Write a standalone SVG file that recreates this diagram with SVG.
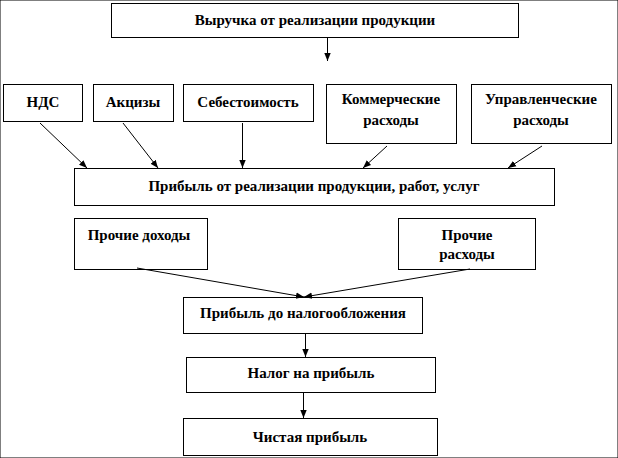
<svg xmlns="http://www.w3.org/2000/svg" width="618" height="458" viewBox="0 0 618 458">
<style>
rect{fill:#fff;stroke:#000;stroke-width:1}
text{font-family:"Liberation Serif","Times New Roman","DejaVu Serif",serif;font-weight:bold;font-size:15px;fill:#000;text-anchor:middle}
.c line{stroke:#000;stroke-width:1;marker-end:url(#a)}
</style>
<defs>
<marker id="a" viewBox="0 0 8 8" refX="8" refY="4" markerWidth="8" markerHeight="8" markerUnits="userSpaceOnUse" orient="auto">
<path d="M0,0.8 L8,4 L0,7.2 Z" fill="#000"/>
</marker>
</defs>
<rect width="618" height="458" fill="#fff" stroke="none"/>
<g id="n1"><rect x="111.5" y="3.5" width="407" height="34"/><text x="315" y="25">Выручка от реализации продукции</text></g>
<g id="n2"><rect x="3.5" y="84.5" width="79" height="37"/><text x="43" y="107">НДС</text></g>
<g id="n3"><rect x="93.5" y="84.5" width="80" height="37"/><text x="133" y="107">Акцизы</text></g>
<g id="n4"><rect x="183.5" y="84.5" width="130" height="37"/><text x="248" y="107">Себестоимость</text></g>
<g id="n5"><rect x="326.5" y="84.5" width="130" height="59"/><text x="391" y="104">Коммерческие</text><text x="391" y="125">расходы</text></g>
<g id="n6"><rect x="471.5" y="84.5" width="140" height="59"/><text x="541" y="104">Управленческие</text><text x="541" y="125">расходы</text></g>
<g id="n7"><rect x="74.5" y="168.5" width="480" height="37"/><text x="314" y="191">Прибыль от реализации продукции, работ, услуг</text></g>
<g id="n8"><rect x="74.5" y="218.5" width="133" height="51"/><text x="139" y="240">Прочие доходы</text></g>
<g id="n9"><rect x="398.5" y="218.5" width="137" height="51"/><text x="467" y="240">Прочие</text><text x="467" y="259">расходы</text></g>
<g id="n10"><rect x="183.5" y="297.5" width="239" height="36"/><text x="303" y="318">Прибыль до налогообложения</text></g>
<g id="n11"><rect x="186.5" y="357.5" width="249" height="35"/><text x="311" y="378">Налог на прибыль</text></g>
<g id="n12"><rect x="183.5" y="418.5" width="254" height="37"/><text x="310" y="442">Чистая прибыль</text></g>
<g class="c" id="connectors">
<line x1="327.5" y1="38" x2="327.5" y2="61"/>
<line x1="40" y1="123" x2="87" y2="168"/>
<line x1="123" y1="123" x2="158" y2="168"/>
<line x1="242.5" y1="123" x2="242.5" y2="168"/>
<line x1="387" y1="146" x2="363" y2="168"/>
<line x1="542" y1="146" x2="508" y2="168"/>
<line x1="137" y1="268" x2="304" y2="297"/>
<line x1="470" y1="269" x2="304" y2="297"/>
<line x1="305.5" y1="334" x2="305.5" y2="357"/>
<line x1="303.5" y1="393" x2="303.5" y2="418"/>
</g>
</svg>
